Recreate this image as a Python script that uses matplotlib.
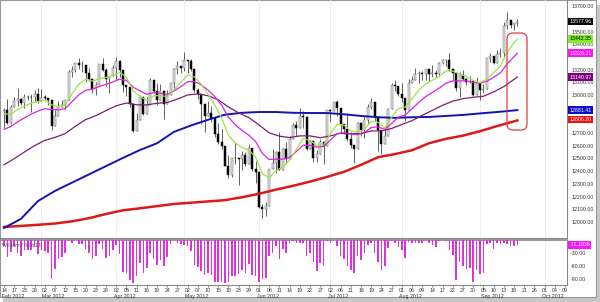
import numpy as np
import pandas as pd
import matplotlib
matplotlib.use('Agg')
import matplotlib.pyplot as plt
from matplotlib.patches import FancyBboxPatch, Rectangle
from matplotlib.transforms import IdentityTransform, blended_transform_factory

plt.rcParams['font.family'] = ['Liberation Sans', 'DejaVu Sans']

# trading calendar (chart runs on to Oct 09 with empty slots)
holidays = ['2012-02-20', '2012-04-06', '2012-05-28', '2012-07-04', '2012-09-03']
days = pd.bdate_range('2012-02-14', '2012-10-09')
days = days[~days.isin(pd.to_datetime(holidays))]

opens = [12874,12878,12781,12904,12950,12965,12939,12985,12983,12982,13005,
 12952,12980,12978,12963,12759,12837,12908,12922,12960,13178,13194,13253,13233,13239,13170,13125,13046,13081,13242,13198,13126,13146,
 13212,13264,13200,13075,13060,12930,12716,12805,12987,12850,12921,13116,13033,12964,13029,12927,13002,13091,13205,13228,
 13214,13279,13269,13207,13038,13009,12932,12835,12855,12821,12695,12632,12599,12442,12369,12504,12503,12496,12530,12455,12581,12420,
 12393,12119,12101,12128,12415,12461,12554,12411,12574,12496,12652,12767,12742,12837,12824,12574,12641,12503,12535,12627,12602,
 12880,12871,12944,12897,12772,12736,12653,12605,12573,12777,12727,12806,12909,12943,12823,12721,12617,12676,12888,13076,13073,
 13009,12976,12879,13096,13118,13169,13176,13165,13208,13169,13172,13165,13250,13275,13272,13204,13173,13057,13158,13125,13103,13107,13001,
 13091,13036,13047,13292,13307,13254,13323,13333,13540,13593,13553,13565]
highs = [12900,12967,12918,12987,13055,12975,13004,13003,13011,13039,13055,
 13049,13002,12978,12963,12880,12952,12963,12964,13193,13226,13254,13289,13269,13239,13210,13125,13106,13245,13290,13210,13146,13235,
 13297,13272,13200,13075,13060,12937,12860,13000,12987,12986,13133,13117,13097,13083,13029,13042,13095,13211,13265,13228,
 13338,13279,13283,13207,13057,13009,12932,12949,12914,12821,12781,12733,12599,12525,12504,12633,12503,12557,12549,12615,12581,12483,
 12393,12145,12159,12416,12578,12556,12706,12582,12628,12678,12782,12794,12896,12871,12831,12649,12641,12567,12655,12627,12880,
 12893,12944,12963,12897,12772,12860,12705,12605,12791,12777,12836,12932,12980,12943,12823,12726,12740,12898,13093,13116,13073,
 13096,12976,13124,13153,13216,13190,13191,13208,13208,13233,13194,13260,13282,13275,13330,13204,13173,13179,13194,13136,13149,13107,13145,
 13091,13086,13294,13332,13307,13356,13373,13574,13653,13593,13565,13601]
lows = [12743,12774,12770,12904,12913,12920,12897,12960,12867,12943,12934,
 12952,12959,12920,12724,12759,12837,12908,12889,12960,13142,13178,13207,13183,13099,13111,13019,12997,13081,13190,13074,13012,13146,
 13119,13138,13025,12990,12903,12710,12716,12805,12839,12850,12921,13012,12920,12964,12811,12927,13002,13047,13164,13170,
 13188,13175,13186,13024,12966,12768,12710,12835,12785,12669,12617,12575,12439,12345,12357,12456,12292,12409,12438,12455,12400,12305,
 12107,12035,12050,12128,12415,12388,12408,12411,12454,12496,12652,12676,12742,12738,12566,12574,12473,12474,12535,12454,12602,
 12787,12871,12835,12698,12689,12636,12586,12462,12573,12679,12662,12771,12889,12795,12560,12535,12617,12676,12888,13031,12991,
 12944,12797,12879,13096,13118,13098,13119,13118,13107,13145,13136,13151,13245,13229,13187,13118,13033,12988,13117,13076,13095,12989,13001,
 12957,13018,13047,13263,13248,13254,13303,13295,13523,13527,13508,13542]
closes = [12878,12781,12904,12950,12966,12939,12985,12983,12982,13005,12952,
 12980,12978,12963,12759,12837,12908,12922,12960,13178,13194,13253,13233,13239,13170,13125,13046,13081,13242,13198,13126,13146,13212,
 13264,13200,13075,13060,12930,12716,12805,12987,12850,12921,13116,13033,12964,13029,12927,13002,13091,13205,13228,13214,
 13279,13269,13207,13038,13009,12932,12835,12855,12821,12695,12632,12599,12442,12369,12504,12503,12496,12530,12455,12581,12420,12393,
 12119,12101,12128,12415,12461,12554,12411,12574,12496,12652,12767,12742,12837,12824,12574,12641,12503,12535,12627,12602,12880,
 12871,12944,12897,12772,12736,12653,12605,12573,12777,12727,12806,12909,12943,12823,12721,12617,12676,12888,13076,13073,13009,
 12976,12879,13096,13118,13169,13176,13165,13208,13169,13172,13165,13250,13275,13272,13204,13173,13057,13158,13125,13103,13107,13001,13091,
 13036,13047,13292,13307,13254,13323,13333,13540,13593,13553,13565,13578]

# moving averages, sampled (bar index -> level)
ma10_idx = list(range(0, 151, 2)) + [151]
ma10 = [12850,12850,12886,12912,12935,12949,12959,12923,12907,12919,13008,13085,13123,13110,13129,13139,13153,13178,13141,13033,
        12990,12957,12994,12996,12987,13042,13101,13158,13143,13085,13006,12922,12820,12682,12623,12587,12566,12513,12380,12349,
        12403,12435,12484,12573,12658,12642,12602,12606,12695,12769,12763,12718,12707,12728,12794,12785,12740,12823,12894,12904,
        12971,13038,13088,13115,13147,13189,13188,13163,13147,13114,13097,13125,13175,13226,13339,13412,13442]
ma20_idx = list(range(0, 151, 2)) + [151]
ma20 = [12730,12751,12789,12820,12850,12873,12892,12886,12883,12894,12947,13001,13037,13046,13067,13084,13102,13125,13115,13061,
        13032,13005,13018,13014,13005,13032,13066,13104,13106,13081,13039,12987,12920,12826,12767,12721,12685,12634,12539,12492,
        12495,12495,12510,12555,12605,12605,12590,12594,12645,12695,12705,12691,12689,12704,12744,12749,12730,12777,12825,12843,
        12891,12942,12987,13020,13054,13094,13111,13111,13111,13100,13094,13108,13139,13174,13245,13302,13328]
ma50_idx = list(range(0, 151, 3)) + [151]
ma50 = [12450,12499,12551,12601,12643,12666,12696,12754,12806,12837,12877,12915,12937,12923,12922,12935,12941,12968,13000,13009,
        12994,12962,12906,12860,12822,12764,12702,12676,12665,12678,12678,12664,12678,12700,12696,12696,12717,12717,12736,12768,
        12798,12840,12879,12919,12952,12971,12982,12990,13024,13066,13123,13141]
ma_idx = [0,5,10,15,20,25,30,35,40,45,50,55,60,65,70,75,80,85,90,95,100,105,110,115,120,125,130,135,140,145,151]
ma100 = [11953,12025,12165,12245,12310,12375,12440,12505,12567,12620,12710,12760,12805,12845,12860,12866,12866,12860,12858,12858,
         12848,12835,12825,12820,12825,12827,12835,12843,12855,12866,12881]
ma200 = [11961,11969,11978,11988,12005,12030,12063,12092,12108,12125,12142,12152,12162,12172,12195,12222,12255,12285,12318,12355,
         12395,12450,12510,12535,12565,12620,12655,12680,12715,12755,12800]

willr = [-14,-40,-28,-15,-29,-37,-22,-23,-23,-16,-33,-24,-25,-29,-89,-66,-44,-40,-29,-3,-6,0,-10,-9,-21,-29,-43,-37,-9,-20,-41,-36,
         -24,-11,-32,-74,-77,-93,-99,-84,-53,-76,-64,-31,-45,-57,-46,-61,-40,-10,-1,-7,-9,-11,-13,-25,-57,-62,-71,-80,-77,-82,-96,-98,
         -97,-100,-98,-83,-83,-78,-69,-77,-56,-81,-84,-98,-91,-87,-36,-29,-13,-44,-20,-31,-8,-2,-7,-7,-8,-37,-30,-51,-71,-53,-60,-3,
         -6,0,-13,-38,-45,-61,-70,-77,-37,-46,-31,-11,-7,-30,-50,-70,-59,-18,-3,-7,-16,-24,-41,-5,-6,-7,-6,-7,-1,-8,-11,-16,-2,-1,
         -2,-24,-35,-92,-50,-60,-66,-65,-96,-70,-79,-76,-10,-7,-21,-8,-10,-6,-9,-14,-13,-11]

# last-value tags on the price scale
tags = [(13577.96, '13577.96', 'black', 'white'),
        (13442.35, '13442.35', '#80f020', 'black'),
        (13328.21, '13328.21', '#ff10ff', 'white'),
        (13140.97, '13140.97', '#800080', 'white'),
        (12881.41, '12881.41', '#0a0ad0', 'white'),
        (12806.20, '12806.20', '#f01010', 'white')]

o = np.array(opens, float); h = np.array(highs, float)
l = np.array(lows, float); c = np.array(closes, float)
idx = np.arange(len(c))

fig = plt.figure(figsize=(6.0, 3.02), dpi=100)
ax = fig.add_axes([0, 64/302, 567/600, 238/302])
axw = fig.add_axes([0, 17/302, 567/600, 45/302], sharex=ax)

for a_ in (ax, axw):
    for s in ('left', 'top'):
        a_.spines[s].set_visible(False)
    for s in ('right', 'bottom'):
        a_.spines[s].set_color('#888888')
        a_.spines[s].set_linewidth(0.8)
axw.spines['top'].set_visible(True)
axw.spines['top'].set_color('#888888')
axw.spines['top'].set_linewidth(1.2)

month_starts = [i for i in range(1, len(days)) if days[i].month != days[i-1].month]
for m in month_starts:
    ax.axvline(m, color='#ececec', lw=0.6, zorder=0)
    axw.axvline(m, color='#ececec', lw=0.6, zorder=0)

# candles
ax.vlines(idx, l, h, color='#222222', lw=0.5, zorder=2)
up = c >= o
body = np.maximum(np.abs(c - o), 3)
ax.bar(idx[up], body[up], bottom=o[up], width=0.62, color='#e4e4e4', edgecolor='#666666', lw=0.35, zorder=3)
ax.bar(idx[~up], body[~up], bottom=c[~up], width=0.62, color='black', edgecolor='black', lw=0.35, zorder=3)

ax.plot(ma_idx, ma200, color='#dd1a1a', lw=1.8, zorder=4)
ax.plot(ma_idx, ma100, color='#1414b4', lw=1.4, zorder=4)
ax.plot(ma50_idx, ma50, color='#7a2070', lw=0.9, zorder=4)
ax.plot(ma20_idx, ma20, color='#e020e0', lw=0.9, zorder=4)
ax.plot(ma10_idx, ma10, color='#9be44a', lw=0.9, zorder=4)

ax.set_xlim(-4/3.4, (567-4)/3.4)
ax.set_ylim(12000 - 16*100/12.7, 12000 + 222*100/12.7)
ax.yaxis.tick_right()
yt = [12000, 12100, 12200, 12300, 12400, 12500, 12600, 12700, 13000, 13100, 13200, 13400, 13500, 13700]
ax.set_yticks(yt)
ax.set_yticklabels(['%.2f' % v for v in yt], fontsize=3.8, color='#333333')
ax.tick_params(axis='y', length=0, pad=3)
ax.tick_params(axis='x', length=0, labelbottom=False)

trans = blended_transform_factory(ax.transAxes, ax.transData)
for val, txt, bg, fg in tags:
    ax.text(1.004, val, txt, transform=trans, fontsize=3.8, color=fg, va='center', ha='left',
            bbox=dict(boxstyle='square,pad=0.25', fc=bg, ec='none'), zorder=10, clip_on=False)

# williams %R panel
axw.bar(idx, willr, width=0.45, color='#dd33dd', zorder=3)
axw.set_ylim(-104, 0)
axw.yaxis.tick_right()
axw.set_yticks([-30, -60, -90])
axw.set_yticklabels(['-30.00', '-60.00', '-90.00'], fontsize=3.8, color='#333333')
axw.tick_params(axis='y', length=0, pad=3)
transw = blended_transform_factory(axw.transAxes, axw.transData)
axw.text(1.004, willr[-1], '-11.1036', transform=transw, fontsize=3.8, color='white', va='center',
         bbox=dict(boxstyle='square,pad=0.25', fc='#ff10ff', ec='none'), clip_on=False)
axw.text(0.003, 0.93, "Williams' %R(14)", transform=axw.transAxes, fontsize=3.8, color='#555555', va='top')

ticks = list(range(0, len(days), 3))
axw.set_xticks(ticks)
axw.set_xticklabels([days[t].strftime('%d') for t in ticks], fontsize=3.8, color='#333333')
axw.tick_params(axis='x', length=1.5, pad=1, color='#888888')
seen = set()
for t in ticks:
    if days[t].month not in seen:
        seen.add(days[t].month)
        axw.text(t - 0.7, -0.2, days[t].strftime('%b %Y'), transform=blended_transform_factory(axw.transData, axw.transAxes),
                 fontsize=3.8, color='#333333', ha='left', va='top')

# highlight box round the right end
fig.add_artist(FancyBboxPatch((507, 172), 20, 97, boxstyle='round,pad=0,rounding_size=6',
                              transform=IdentityTransform(), fill=False, ec='#e04040', lw=0.9))
# frame with shadow
fig.add_artist(Rectangle((3, 0), 597, 297, transform=IdentityTransform(), fc='#c8c8c8', ec='none', zorder=-10))
fig.add_artist(Rectangle((0, 5), 596, 297, transform=IdentityTransform(), fc='white', ec='#999999', lw=0.8, zorder=-9))
ax.patch.set_alpha(0)
axw.patch.set_alpha(0)

fig.savefig('out.png', dpi=100)
